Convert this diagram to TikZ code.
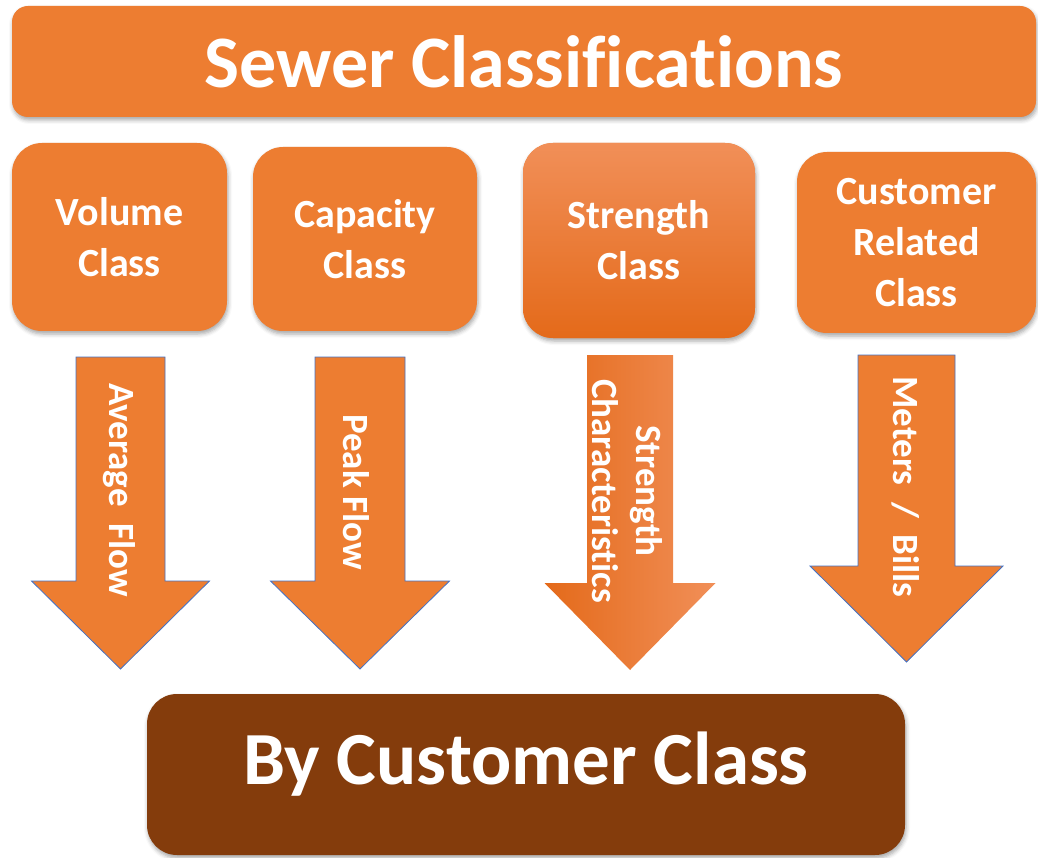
\documentclass[tikz,border=0pt]{standalone}
\usepackage{fontspec}
\setmainfont{Carlito}[Ligatures={NoCommon,NoRequired,NoContextual},
  RawFeature={-liga;-clig;-dlig;-calt}]
\usetikzlibrary{shadows.blur}

\definecolor{sewerorange}{RGB}{237,125,49}
\definecolor{sewerbrown}{RGB}{132,60,12}
\definecolor{sewerlight}{RGB}{241,143,88}
\definecolor{sewerdark}{RGB}{228,106,26}
\definecolor{arrowblue}{RGB}{68,114,196}

\tikzset{
  softshadow/.style={blur shadow={shadow xshift=1pt, shadow yshift=-3pt,
      shadow blur radius=4pt, shadow opacity=35}},
  titlebox/.style={fill=sewerorange, rounded corners=16pt, text=white,
      font=\bfseries\fontsize{74}{80}\selectfont, inner sep=0pt, softshadow},
  classbox/.style={fill=sewerorange, rounded corners=30pt, text=white,
      align=center, font=\bfseries\fontsize{40}{51}\selectfont,
      inner sep=0pt, softshadow},
  resultbox/.style={fill=sewerbrown, rounded corners=30pt, inner sep=0pt,
      softshadow},
  resulttext/.style={text=white, font=\bfseries\fontsize{75}{80}\selectfont},
  flowarrow/.style={fill=sewerorange, draw=arrowblue, line width=0.8pt},
  strengtharrow/.style={left color=sewerdark, right color=sewerlight},
  flowlabel/.style={text=white, rotate=-90, align=center,
      font=\bfseries\fontsize{37}{44}\selectfont}
}

% down arrow: style, centre x, shaft half width, top, neck, head half width, tip
\newcommand{\sewerarrow}[7]{%
  \path[#1] ({#2-#3},#4) -- ({#2+#3},#4) -- ({#2+#3},#5) -- ({#2+#6},#5)
    -- (#2,#7) -- ({#2-#6},#5) -- ({#2-#3},#5) -- cycle;}

\begin{document}
\begin{tikzpicture}[x=1pt,y=-1pt]
  \useasboundingbox (0,0) rectangle (1038,858);

  % heading
  \node[titlebox, minimum width=1024pt, minimum height=111pt] (title)
    at (524,61.5) {Sewer Classif\kern0pt icat\kern0pt ions};

  % the four classes
  \node[classbox, minimum width=215pt, minimum height=188pt] (volume)
    at (119.5,237) {Volume\\Class};
  \node[classbox, minimum width=224pt, minimum height=184pt] (capacity)
    at (365,239) {Capacity\\Class};
  \node[classbox, top color=sewerlight, bottom color=sewerdark,
    minimum width=232pt, minimum height=195pt] (strength)
    at (639,240.5) {Strength\\Class};
  \node[classbox, minimum width=239pt, minimum height=181pt] (customer)
    at (916.5,242.5) {Customer\\Related\\Class};

  % arrows
  \sewerarrow{flowarrow}{120.5}{44.5}{357}{581}{89}{669}
  \sewerarrow{flowarrow}{360}{45}{357}{581}{89.5}{669}
  \sewerarrow{strengtharrow}{630}{43}{355}{583}{85.5}{670}
  \sewerarrow{flowarrow}{906.5}{48.5}{355}{566}{96.5}{662}

  \node[flowlabel] (avgflow) at (119,490) {Average\ \ Flow};
  \node[flowlabel] (peakflow) at (356,492) {Peak Flow};
  \node[flowlabel] (strchar) at (627,491)
    {Strength\\Characterist\kern0pt ics};
  \node[flowlabel] (meters) at (906,487) {Meters\ \ /\ \ Bills};

  % result
  \node[resultbox, minimum width=758pt, minimum height=161pt] (result)
    at (526,774.5) {};
  \node[resulttext] (bycustomer) at (526,764) {By Customer Class};
\end{tikzpicture}
\end{document}
